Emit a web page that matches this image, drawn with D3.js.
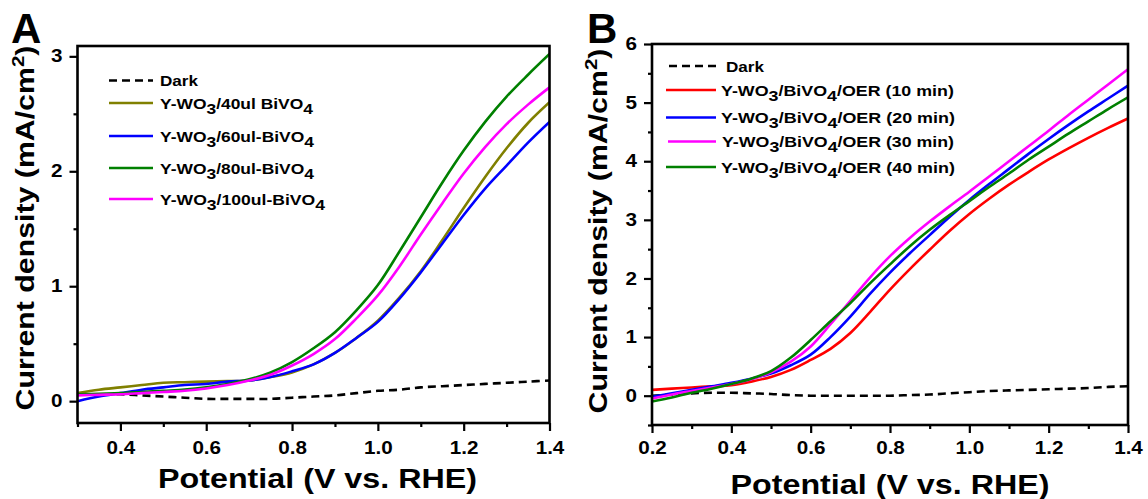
<!DOCTYPE html>
<html>
<head>
<meta charset="utf-8">
<script src="https://cdn.jsdelivr.net/npm/d3@7"></script>
<style>
  html, body { margin: 0; padding: 0; background: #fff; }
  svg { display: block; font-family: "Liberation Sans", Arial, sans-serif; font-weight: bold; }
</style>
</head>
<body>
<svg id="chart" width="1148" height="499"></svg>
<script>
// ---------- Panel A data ----------
const xA = [0.3,0.35,0.4,0.45,0.5,0.55,0.6,0.65,0.7,0.75,0.8,0.85,0.9,0.95,1.0,1.05,1.1,1.15,1.2,1.25,1.3,1.35,1.4];
const darkA   = [0.06,0.06,0.06,0.05,0.04,0.03,0.02,0.02,0.02,0.02,0.03,0.04,0.05,0.07,0.09,0.10,0.12,0.13,0.14,0.15,0.16,0.17,0.18];
const ul40A   = [0.07,0.10,0.12,0.14,0.16,0.165,0.17,0.175,0.18,0.21,0.25,0.32,0.42,0.55,0.70,0.90,1.13,1.40,1.68,1.95,2.20,2.42,2.60];
const ul60A   = [0.00,0.04,0.07,0.10,0.12,0.14,0.15,0.17,0.18,0.21,0.26,0.32,0.42,0.55,0.69,0.89,1.12,1.37,1.62,1.85,2.05,2.25,2.43];
const ul80A   = [0.06,0.065,0.07,0.08,0.09,0.10,0.12,0.15,0.19,0.25,0.34,0.46,0.60,0.79,1.01,1.30,1.60,1.90,2.18,2.43,2.65,2.84,3.02];
const ul100A  = [0.05,0.055,0.06,0.07,0.08,0.09,0.11,0.14,0.18,0.23,0.31,0.41,0.54,0.72,0.92,1.17,1.45,1.72,1.98,2.21,2.41,2.58,2.73];
const labelsA = ["Dark","Y-WO_3/40ul BiVO_4","Y-WO_3/60ul-BiVO_4","Y-WO_3/80ul-BiVO_4","Y-WO_3/100ul-BiVO_4"];
const xTicksA = [0.4,0.6,0.8,1.0,1.2,1.4];
const xMinorA = [0.3,0.5,0.7,0.9,1.1,1.3];
const yTicksA = [0,1,2,3];
const yMinorA = [0.5,1.5,2.5];

// ---------- Panel B data ----------
const xB = [0.2,0.25,0.3,0.35,0.4,0.45,0.5,0.55,0.6,0.65,0.7,0.75,0.8,0.85,0.9,0.95,1.0,1.05,1.1,1.15,1.2,1.25,1.3,1.35,1.4];
const darkB  = [0.00,0.02,0.04,0.05,0.05,0.04,0.03,0.01,0.00,0.00,0.00,0.00,0.00,0.01,0.02,0.04,0.06,0.08,0.09,0.10,0.11,0.12,0.13,0.15,0.16];
const min10B = [0.10,0.12,0.14,0.16,0.18,0.24,0.32,0.44,0.61,0.80,1.07,1.43,1.81,2.16,2.49,2.81,3.10,3.36,3.60,3.82,4.03,4.22,4.40,4.57,4.73];
const min20B = [-0.02,0.04,0.10,0.16,0.22,0.29,0.38,0.52,0.70,1.00,1.35,1.74,2.10,2.43,2.74,3.05,3.34,3.61,3.87,4.13,4.38,4.62,4.85,5.07,5.29];
const min30B = [-0.05,0.02,0.08,0.14,0.20,0.28,0.40,0.58,0.84,1.22,1.62,2.02,2.38,2.69,2.97,3.23,3.48,3.74,4.00,4.26,4.52,4.79,5.05,5.31,5.57];
const min40B = [-0.10,-0.03,0.05,0.12,0.20,0.29,0.42,0.65,0.95,1.27,1.58,1.92,2.24,2.55,2.83,3.08,3.32,3.56,3.79,4.03,4.25,4.47,4.68,4.89,5.09];
const labelsB = ["Dark","Y-WO_3/BiVO_4/OER (10 min)","Y-WO_3/BiVO_4/OER (20 min)","Y-WO_3/BiVO_4/OER (30 min)","Y-WO_3/BiVO_4/OER (40 min)"];
const xTicksB = [0.2,0.4,0.6,0.8,1.0,1.2,1.4];
const xMinorB = [0.3,0.5,0.7,0.9,1.1,1.3];
const yTicksB = [0,1,2,3,4,5,6];
const yMinorB = [-0.5,0.5,1.5,2.5,3.5,4.5,5.5];

const SX = 1.18; // horizontal stretch of the original lettering
const svg = d3.select("#chart");
svg.append("rect").attr("width",1148).attr("height",499).attr("fill","#fff");

// add text with "_d" subscripts
function richText(sel, str, fs) {
  const parts = str.split(/(_\d)/);
  let sub = false;
  parts.forEach(p => {
    if (!p) return;
    if (/^_\d$/.test(p)) {
      sel.append("tspan").attr("dy", 5).attr("font-size", fs).text(p.slice(1));
      sub = true;
    } else {
      const t = sel.append("tspan").text(p);
      if (sub) { t.attr("dy", -5); sub = false; }
    }
  });
}

// place a text element at (x,y) stretched to a target width along its direction
function fitText(t, x, y, target, rot) {
  const w = t.node().getComputedTextLength();
  const s = target ? target / w : SX;
  t.attr("transform", `translate(${x},${y})${rot ? " rotate(" + rot + ")" : ""} scale(${s},1)`);
}

function drawPanel(cfg) {
  const g = svg.append("g");
  const x = d3.scaleLinear().domain(cfg.xDomain).range([cfg.left, cfg.right]);
  const y = d3.scaleLinear().domain(cfg.yDomain).range([cfg.bottom, cfg.top]);

  const xAxis = d3.axisBottom(x).tickValues(cfg.xTicks).tickSize(8).tickPadding(cfg.xPad)
      .tickFormat(d3.format(".1f"));
  const xMinor = d3.axisBottom(x).tickValues(cfg.xMinor).tickSize(4).tickFormat("");
  const yAxis = d3.axisLeft(y).tickValues(cfg.yTicks).tickSize(8).tickPadding(7)
      .tickFormat(d3.format("d"));
  const yMinor = d3.axisLeft(y).tickValues(cfg.yMinor).tickSize(4).tickFormat("");

  const styleAxis = a => {
    a.select(".domain").remove();
    a.selectAll(".tick line").attr("stroke","#000").attr("stroke-width",2.2);
    a.selectAll("text").attr("fill","#000").attr("font-size",17.5)
      .attr("font-family",'"Liberation Sans", Arial, sans-serif').attr("font-weight","bold");
  };
  g.append("g").attr("transform",`translate(0,${cfg.bottom})`).call(xAxis).call(styleAxis)
    .selectAll(".tick text").attr("transform", `scale(${SX},1)`);
  g.append("g").attr("transform",`translate(0,${cfg.bottom})`).call(xMinor).call(styleAxis);
  g.append("g").attr("transform",`translate(${cfg.left},0)`).call(yAxis).call(styleAxis)
    .selectAll(".tick text").attr("x", -15 / SX).attr("transform", `scale(${SX},1)`);
  g.append("g").attr("transform",`translate(${cfg.left},0)`).call(yMinor).call(styleAxis);

  const cid = "clip" + cfg.id;
  svg.append("clipPath").attr("id", cid).append("rect")
    .attr("x", cfg.left).attr("y", cfg.top)
    .attr("width", cfg.right - cfg.left).attr("height", cfg.bottom - cfg.top);

  const line = d3.line().x(d => x(d[0])).y(d => y(d[1])).curve(d3.curveCatmullRom.alpha(0.5));
  const lg = g.append("g").attr("clip-path", `url(#${cid})`);
  cfg.series.forEach(s => {
    lg.append("path").datum(cfg.xs.map((v,i) => [v, s.values[i]]))
      .attr("d", line).attr("fill","none").attr("stroke", s.color)
      .attr("stroke-width", 2.6).attr("stroke-dasharray", s.dash || null);
  });

  g.append("rect").attr("x", cfg.left).attr("y", cfg.top)
    .attr("width", cfg.right - cfg.left).attr("height", cfg.bottom - cfg.top)
    .attr("fill","none").attr("stroke","#000").attr("stroke-width",2.6);

  // legend
  cfg.series.forEach((s, i) => {
    const ly = cfg.legendY[i];
    g.append("line").attr("x1", cfg.legendX1[i]).attr("x2", cfg.legendX2)
      .attr("y1", ly).attr("y2", ly).attr("stroke", s.color).attr("stroke-width", 2.6)
      .attr("stroke-dasharray", s.dash || null);
    const t = g.append("text").attr("font-size", 15).attr("fill","#000");
    richText(t, s.label, 15);
    fitText(t, cfg.legendTextX[i], ly + 5.5, cfg.legendW[i]);
  });

  // axis titles
  const xt = g.append("text").attr("text-anchor","middle").attr("font-size", 27.5)
    .text("Potential (V vs. RHE)");
  fitText(xt, (cfg.left + cfg.right) / 2 + cfg.xTitleDx, cfg.xTitleY, 319);

  const yt = g.append("text").attr("text-anchor","middle").attr("font-size", 25);
  yt.append("tspan").text("Current density (mA/cm");
  yt.append("tspan").attr("dy", -10).attr("font-size", 17).text("2");
  yt.append("tspan").attr("dy", 10).text(")");
  fitText(yt, cfg.yTitleX, cfg.yTitleCY, 365, -90);

  g.append("text").attr("x", cfg.letterX).attr("y", 43).attr("font-size", 42).text(cfg.letter);
}

drawPanel({
  id: "A", letter: "A", letterX: 11,
  left: 77.5, right: 549.5, top: 46, bottom: 423,
  xDomain: [0.3, 1.4], yDomain: [-0.19, 3.09], xPad: 11,
  xTicks: xTicksA, xMinor: xMinorA, yTicks: yTicksA, yMinor: yMinorA,
  xs: xA,
  series: [
    {label: labelsA[0], values: darkA,  color: "#000000", dash: "8,5"},
    {label: labelsA[1], values: ul40A,  color: "#808000"},
    {label: labelsA[2], values: ul60A,  color: "#0000ff"},
    {label: labelsA[3], values: ul80A,  color: "#008000"},
    {label: labelsA[4], values: ul100A, color: "#ff00ff"}
  ],
  legendY: [80.5, 103, 136, 168, 199],
  legendX1: [109, 109, 109, 109, 109], legendX2: 153,
  legendTextX: [160, 160, 160, 160, 160],
  legendW: [38, 153, 154, 154, 165],
  xTitleDx: 4, xTitleY: 488, yTitleX: 34, yTitleCY: 228
});

drawPanel({
  id: "B", letter: "B", letterX: 587,
  left: 652, right: 1128, top: 44, bottom: 425,
  xDomain: [0.2, 1.4], yDomain: [-0.5, 6], xPad: 9,
  xTicks: xTicksB, xMinor: xMinorB, yTicks: yTicksB, yMinor: yMinorB,
  xs: xB,
  series: [
    {label: labelsB[0], values: darkB,  color: "#000000", dash: "8,5"},
    {label: labelsB[1], values: min10B, color: "#ff0000"},
    {label: labelsB[2], values: min20B, color: "#0000ff"},
    {label: labelsB[3], values: min30B, color: "#ff00ff"},
    {label: labelsB[4], values: min40B, color: "#008000"}
  ],
  legendY: [66, 90, 117.5, 141.5, 167],
  legendX1: [669, 666, 666, 668, 666], legendX2: 716,
  legendTextX: [726, 721, 721, 722, 721],
  legendW: [38, 233, 234, 232, 234],
  xTitleDx: 0, xTitleY: 494, yTitleX: 607, yTitleCY: 231
});
</script>
</body>
</html>
